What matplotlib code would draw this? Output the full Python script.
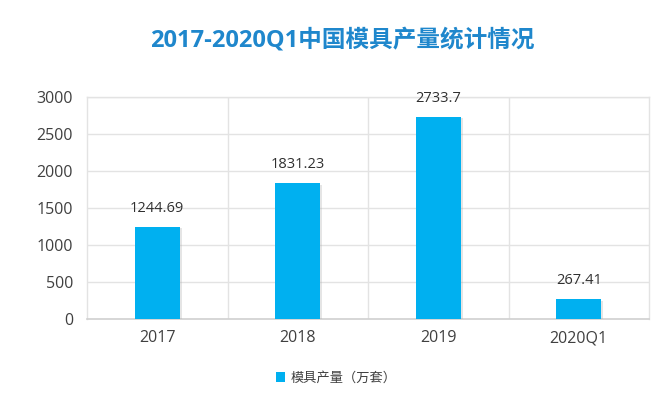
import matplotlib
matplotlib.use("Agg")
import matplotlib.pyplot as plt
import matplotlib.patheffects as pe
from matplotlib.patches import Patch

plt.rcParams['font.family'] = ['Open Sans', 'Noto Sans CJK SC', 'DejaVu Sans']

categories = ['2017', '2018', '2019', '2020Q1']
values = [1244.69, 1831.23, 2733.7, 267.41]
value_labels = ['1244.69', '1831.23', '2733.7', '267.41']
yticks = [0, 500, 1000, 1500, 2000, 2500, 3000]
title = '2017-2020Q1中国模具产量统计情况'
series_name = '模具产量（万套）'

bar_color = '#00B0F0'
grid_color = '#E3E3E3'

fig = plt.figure(figsize=(6.7, 4.01), dpi=100)
W, H = 670, 401
ax = fig.add_axes([87 / W, 1 - 319 / H, (649 - 87) / W, (319 - 97) / H])

x = list(range(len(categories)))
bars = ax.bar(x, values, width=0.32, color=bar_color, zorder=3, label=series_name)
for b in bars:
    b.set_path_effects([pe.SimplePatchShadow(offset=(1.5, -1), shadow_rgbFace='#AAAAAA', alpha=0.3), pe.Normal()])

for xi, v, lab in zip(x, values, value_labels):
    ax.annotate(lab, (xi, v), xytext=(0, 8), textcoords='offset points',
                ha='center', va='bottom', fontsize=10.5, color='#303030')

ax.set_xlim(-0.5, len(categories) - 0.5)
ax.set_ylim(0, 3000)
ax.set_yticks(yticks)
ax.set_yticklabels([str(t) for t in yticks], fontsize=11.5, color='#404040')
ax.set_xticks(x)
ax.set_xticklabels(categories, fontsize=11.5, color='#404040')
ax.tick_params(axis='both', length=0)
ax.tick_params(axis='y', pad=10)
ax.tick_params(axis='x', pad=8)

for t in yticks[1:]:
    ax.axhline(t, color=grid_color, lw=1, zorder=1)
for bx in [0.5, 1.5, 2.5]:
    ax.axvline(bx, color=grid_color, lw=1, zorder=1)

for s in ['left', 'right', 'top']:
    ax.spines[s].set_color(grid_color)
    ax.spines[s].set_linewidth(1)
ax.spines['bottom'].set_color('#D0D0D0')
ax.spines['bottom'].set_linewidth(1.2)

fig.text(342 / W, 1 - 40 / H, title, ha='center', va='center', fontsize=17,
         fontweight='bold', color='#1F87CC')

leg = fig.legend(handles=[Patch(facecolor=bar_color, edgecolor='none', label=series_name)],
                 loc='center', bbox_to_anchor=(336 / W, 1 - 378 / H), frameon=False,
                 fontsize=9.5, handlelength=0.7, handleheight=0.7, handletextpad=0.4)
for t in leg.get_texts():
    t.set_color('#404040')

fig.savefig('out.png', dpi=100)
